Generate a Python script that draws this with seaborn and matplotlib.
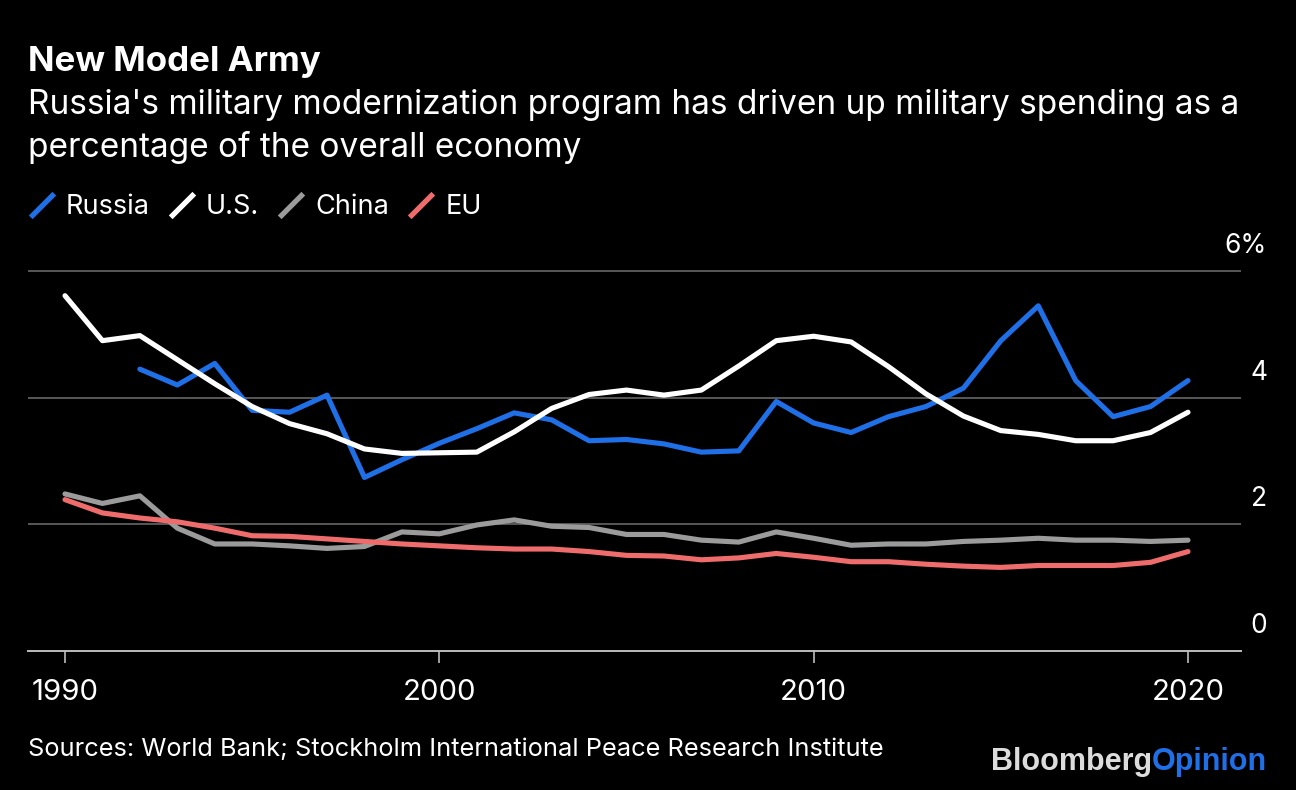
import numpy as np
import pandas as pd
import matplotlib
matplotlib.use("Agg")
import matplotlib.pyplot as plt
import matplotlib.transforms as mtrans
import seaborn as sns
from matplotlib.lines import Line2D
from matplotlib.path import Path

years = list(range(1990, 2021))
russia = [np.nan, np.nan, 4.45, 4.20, 4.54, 3.80, 3.77, 4.04, 2.74, 3.02, 3.28,
          3.51, 3.76, 3.65, 3.32, 3.34, 3.27, 3.14, 3.16, 3.94, 3.60,
          3.45, 3.70, 3.86, 4.15, 4.90, 5.45, 4.27, 3.70, 3.86, 4.27]
us = [5.61, 4.90, 4.98, 4.60, 4.22, 3.86, 3.59, 3.43, 3.19, 3.12, 3.13,
      3.14, 3.46, 3.83, 4.05, 4.12, 4.04, 4.12, 4.50, 4.90, 4.97,
      4.88, 4.49, 4.06, 3.71, 3.48, 3.42, 3.32, 3.32, 3.45, 3.77]
china = [2.48, 2.33, 2.45, 1.94, 1.69, 1.69, 1.66, 1.62, 1.65, 1.88, 1.85,
         1.99, 2.07, 1.97, 1.95, 1.84, 1.84, 1.75, 1.72, 1.88, 1.78,
         1.67, 1.69, 1.69, 1.73, 1.75, 1.78, 1.75, 1.75, 1.73, 1.75]
eu = [2.39, 2.18, 2.10, 2.04, 1.94, 1.82, 1.81, 1.77, 1.73, 1.69, 1.66,
      1.63, 1.61, 1.61, 1.57, 1.51, 1.50, 1.44, 1.47, 1.54, 1.48,
      1.41, 1.41, 1.37, 1.34, 1.32, 1.35, 1.35, 1.35, 1.40, 1.57]
series_names = ["Russia", "U.S.", "China", "EU"]
colors = {"Russia": "#1f6fe6", "U.S.": "#ffffff", "China": "#9b9b9b", "EU": "#ef6c6c"}
x_ticks = [1990, 2000, 2010, 2020]
y_ticks = [0, 2, 4, 6]
y_tick_labels = ["0", "2", "4", "6%"]

title = "New Model Army"
subtitle_lines = ["Russia's military modernization program has driven up military spending as a",
                  "percentage of the overall economy"]
source = "Sources: World Bank; Stockholm International Peace Research Institute"

df = pd.DataFrame({"year": years, "Russia": russia, "U.S.": us, "China": china, "EU": eu})
long = df.melt(id_vars="year", var_name="country", value_name="value").dropna()

sns.set_theme(style="dark")
FONT = ["Inter", "Liberation Sans", "DejaVu Sans"]
plt.rcParams["font.family"] = FONT
W, H = 1296, 790
fig = plt.figure(figsize=(W / 100, H / 100), dpi=100, facecolor="black")
ax = fig.add_axes([28 / W, (H - 651) / H, (1241 - 28) / W, (651 - 260) / H])
ax.set_facecolor("black")

sns.lineplot(data=long, x="year", y="value", hue="country", hue_order=series_names,
             palette=colors, linewidth=3.7, ax=ax, legend=False, zorder=3)

ax.set_xlim(1990 - 37 / 37.43, 2020 + 53 / 37.43)
ax.set_ylim(0, 6 + 11 / 63.33)

for yv in y_ticks[1:]:
    ax.axhline(yv, color="#5f5f5f", lw=1.3, zorder=1)
for s in ["top", "right", "left"]:
    ax.spines[s].set_visible(False)
ax.spines["bottom"].set_color("#bdbdbd")
ax.spines["bottom"].set_linewidth(1.4)
ax.grid(False)

ax.set_xticks(x_ticks)
ax.set_xticklabels([str(v) for v in x_ticks])
ax.tick_params(axis="x", colors="#bdbdbd", length=8.5, width=1.2, pad=12,
               labelcolor="white", labelsize=18, bottom=True)
ax.set_yticks([])
ax.set_xlabel("")
ax.set_ylabel("")

ylabels = []
for yv, lab in zip(y_ticks, y_tick_labels):
    tr = mtrans.blended_transform_factory(ax.transAxes, ax.transData) + \
        mtrans.ScaledTranslation(26 / 100, 25 / 100, fig.dpi_scale_trans)
    ylabels.append(ax.text(1.0, yv, lab, transform=tr, ha="right", va="center",
                           color="white", fontsize=18, clip_on=False))

t_title = fig.text(28 / W, 1 - 62 / H, title, color="white", fontsize=24,
                   fontweight="bold", va="center", ha="left")
t_sub = [fig.text(28 / W, 1 - yc / H, line, color="white", fontsize=21, va="center",
                  ha="left") for line, yc in zip(subtitle_lines, [105, 148])]

slash = Path([(-1.0, -1.0), (1.0, 1.0)], [Path.MOVETO, Path.LINETO])
handles = [Line2D([], [], linestyle="none", marker=slash, markersize=17,
                  markeredgewidth=3.8, color=colors[n]) for n in series_names]
leg = fig.legend(handles, series_names, loc="center left",
                 bbox_to_anchor=(29 / W, 1 - 207 / H), ncol=4, frameon=False,
                 fontsize=18, handlelength=1.0, handletextpad=0.45,
                 columnspacing=0.8, borderpad=0, borderaxespad=0)
for t in leg.get_texts():
    t.set_color("white")

t_src = fig.text(28 / W, 1 - 750 / H, source, color="white", fontsize=17,
                 va="center", ha="left")

t_op = fig.text(1267 / W, 1 - 762 / H, "Opinion", color="#1f6fe6", fontsize=22,
                fontweight="bold", va="center", ha="right", family="Liberation Sans")
t_bb = fig.text(0, 1 - 762 / H, "Bloomberg", color="#dcdcdc", fontsize=22,
                fontweight="bold", va="center", ha="right", family="Liberation Sans")

# fit text widths to the reference layout
fig.canvas.draw()
r = fig.canvas.get_renderer()


def fit(texts, ref, target):
    w = ref.get_window_extent(r).width
    for t in texts:
        t.set_fontsize(t.get_fontsize() * target / w)


fit([t_title], t_title, 294)
fit(t_sub, t_sub[0], 1212)
fit(ax.get_xticklabels(), ax.get_xticklabels()[0], 67)
fit(ylabels, ylabels[-1], 42)
fit(leg.get_texts(), leg.get_texts()[0], 84)
fit([t_src], t_src, 856)
fig.canvas.draw()
bb = t_op.get_window_extent(r)
t_bb.set_x(bb.x0 / W)

fig.savefig("out.png", dpi=100, facecolor="black")
